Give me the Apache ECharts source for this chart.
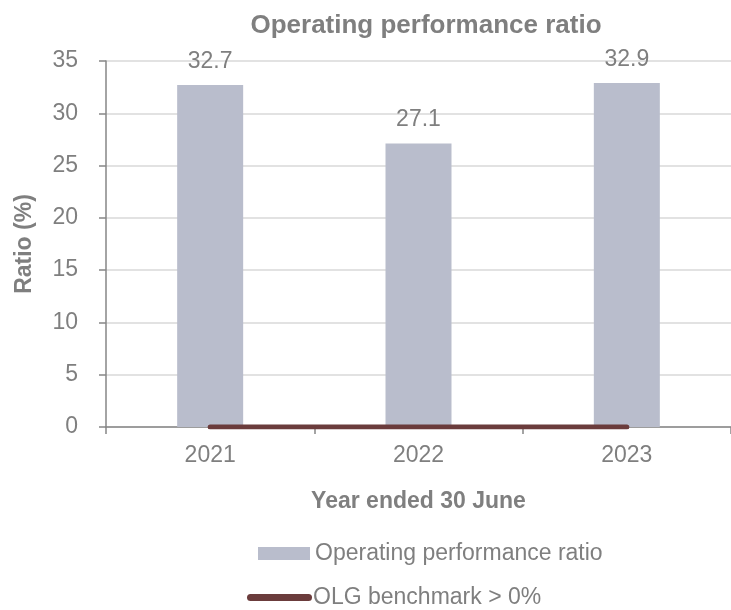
<!DOCTYPE html>
<html>
<head>
<meta charset="utf-8">
<script src="https://cdn.jsdelivr.net/npm/echarts@6/dist/echarts.min.js"></script>
<style>html,body{margin:0;padding:0;background:#fff;}#c{width:731px;height:610px;}</style>
</head>
<body>
<div id="c"></div>
<script>
const categories = ['2021', '2022', '2023'];
const ratioValues = [32.7, 27.1, 32.9];
const benchmarkValues = [0, 0, 0];
const yTicks = { min: 0, max: 35, interval: 5 };

const FONT = '"Liberation Sans", Arial, sans-serif';
const GREY = '#7f7f7f';
const chart = echarts.init(document.getElementById('c'), null, { renderer: 'canvas' });
chart.setOption({
  backgroundColor: '#ffffff',
  animation: false,
  textStyle: { fontFamily: FONT },
  title: {
    text: 'Operating performance ratio',
    left: 421, top: 8, textAlign: 'center',
    textStyle: { fontFamily: FONT, fontSize: 26, fontWeight: 'bold', color: GREY }
  },
  grid: { left: 106, top: 61, width: 630, height: 366, containLabel: false },
  legend: [
    {
      data: ['Operating performance ratio'],
      left: 253, top: 537, selectedMode: false,
      itemWidth: 52, itemHeight: 13, icon: 'rect',
      textStyle: { fontFamily: FONT, fontSize: 23, color: GREY, lineHeight: 23 }
    },
    {
      data: [{ name: 'OLG benchmark > 0%', icon: 'path://M3.5,0 L61.5,0 A3.5,3.5 0 0 1 61.5,7 L3.5,7 A3.5,3.5 0 0 1 3.5,0 Z' }],
      left: 242, top: 581, selectedMode: false,
      itemWidth: 65, itemHeight: 7,
      itemStyle: { color: '#6b3c3c' },
      textStyle: { fontFamily: FONT, fontSize: 23, color: GREY, lineHeight: 23, padding: [0, 0, 0, -4] }
    }
  ],
  xAxis: {
    type: 'category',
    data: categories,
    name: 'Year ended 30 June',
    nameLocation: 'middle',
    nameGap: 63,
    nameTextStyle: { fontFamily: FONT, fontSize: 23, fontWeight: 'bold', color: GREY },
    axisLine: { lineStyle: { color: '#868686', width: 1.5 } },
    axisTick: { show: true, length: 7, alignWithLabel: false, lineStyle: { color: '#868686', width: 1.5 } },
    axisLabel: { margin: 17, fontFamily: FONT, fontSize: 23, color: GREY }
  },
  yAxis: {
    type: 'value',
    min: yTicks.min, max: yTicks.max, interval: yTicks.interval,
    name: 'Ratio (%)',
    nameLocation: 'middle',
    nameGap: 70,
    nameTextStyle: { fontFamily: FONT, fontSize: 23, fontWeight: 'bold', color: GREY },
    axisLine: { show: true, lineStyle: { color: '#868686', width: 1.5 } },
    axisTick: { show: true, length: 7, lineStyle: { color: '#868686', width: 1.5 } },
    axisLabel: { margin: 28, fontFamily: FONT, fontSize: 23, color: GREY },
    splitLine: { lineStyle: { color: '#d9d9d9', width: 1.5 } }
  },
  series: [
    {
      name: 'Operating performance ratio',
      type: 'bar',
      data: ratioValues,
      barWidth: 66,
      itemStyle: { color: '#b9bdcc' },
      label: { show: true, position: 'top', distance: 12, fontFamily: FONT, fontSize: 23, color: GREY },
      z: 2
    },
    {
      name: 'OLG benchmark > 0%',
      type: 'line',
      data: benchmarkValues,
      symbol: 'none',
      lineStyle: { color: '#6b3c3c', width: 5, cap: 'round' },
      itemStyle: { color: '#6b3c3c' },
      z: 5
    }
  ]
});
</script>
</body>
</html>
